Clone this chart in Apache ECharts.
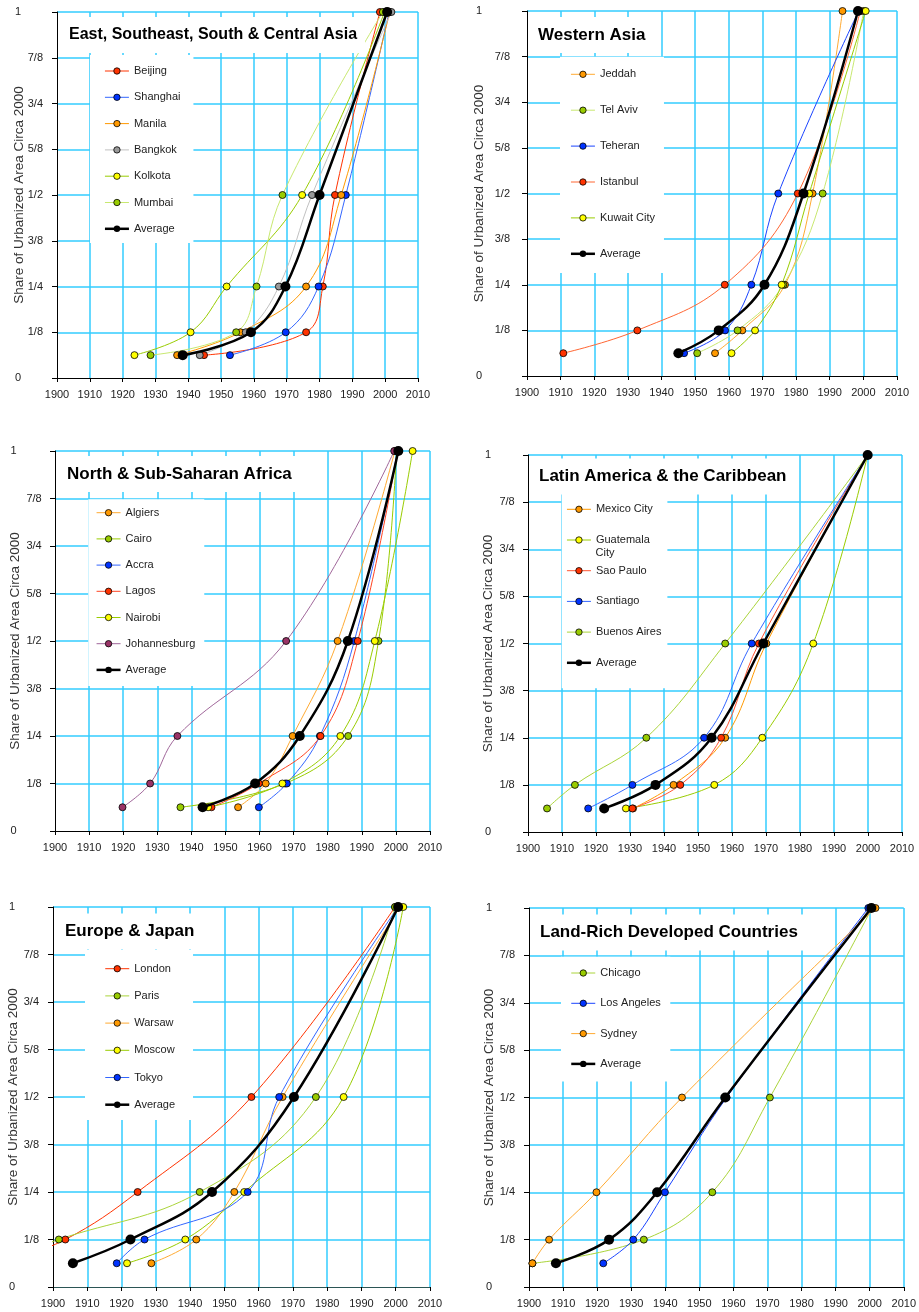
<!DOCTYPE html>
<html><head><meta charset="utf-8">
<script src="https://cdn.jsdelivr.net/npm/echarts@6/dist/echarts.min.js"></script>
<style>html,body{margin:0;padding:0;background:#fff;}#c{width:919px;height:1312px;}</style>
</head><body><div id="c"></div>
<script>
// ---------- shared values ----------
const levels = [1/16, 1/8, 1/4, 1/2, 1];
const yTickLabels = ['0','1/8','1/4','3/8','1/2','5/8','3/4','7/8','1'];
const xMin = 1900, xMax = 2010, xStep = 10;
const yAxisTitle = 'Share of Urbanized Area Circa 2000';

// ---------- Panel 1: East, Southeast, South & Central Asia ----------
const asiaTitle = 'East, Southeast, South & Central Asia';
const asiaCities = ['Beijing','Shanghai','Manila','Bangkok','Kolkota','Mumbai','Average'];
const asiaYears = [
  [1944.8,1975.9,1981.0,1984.7,1998.4],
  [1952.7,1969.7,1979.7,1988.0,2001.2],
  [1936.6,1955.9,1975.9,1986.6,2001.4],
  [1943.5,1957.5,1967.6,1977.7,2001.9],
  [1923.6,1940.7,1951.7,1974.7,1999.8],
  [1928.5,1954.6,1960.8,1968.7,1999.3],
  [1938.3,1959.1,1969.6,1980.0,2000.6]
];
// ---------- Panel 2: Western Asia ----------
const westTitle = 'Western Asia';
const westCities = ['Jeddah','Tel Aviv','Teheran','Istanbul','Kuwait City','Average'];
const westYears = [
  [1955.9,1964.0,1976.7,1984.9,1993.8],
  [1950.6,1962.6,1976.2,1987.9,2000.1],
  [1946.7,1958.9,1966.7,1974.7,1998.6],
  [1910.8,1932.8,1958.8,1980.5,1999.1],
  [1960.8,1967.8,1975.7,1983.9,2000.7],
  [1945.0,1957.0,1970.6,1982.2,1998.4]
];
// ---------- Panel 3: North & Sub-Saharan Africa ----------
const africaTitle = 'North & Sub-Saharan Africa';
const africaCities = ['Algiers','Cairo','Accra','Lagos','Nairobi','Johannesburg','Average'];
const africaYears = [
  [1953.7,1961.8,1969.7,1982.9,1999.7],
  [1936.8,1967.5,1986.0,1994.9,2000.2],
  [1959.8,1968.0,1977.7,1987.8,2000.5],
  [1945.9,1959.8,1977.9,1988.8,2000.5],
  [1944.9,1966.7,1983.7,1993.8,2004.9],
  [1919.8,1927.9,1935.9,1967.8,1999.5],
  [1943.3,1958.7,1971.8,1985.9,2000.7]
];
// ---------- Panel 4: Latin America & the Caribbean ----------
const latinTitle = 'Latin America & the Caribbean';
const latinCities = ['Mexico City','Guatemala City','Sao Paulo','Santiago','Buenos Aires','Average'];
const latinYears = [
  [1930.9,1942.8,1958.0,1970.1,1999.9],
  [1928.8,1954.8,1968.9,1983.9,1999.9],
  [1930.7,1944.8,1956.8,1967.9,1999.9],
  [1917.7,1930.7,1951.8,1965.8,1999.9],
  [1905.6,1913.8,1934.8,1958.0,1999.9],
  [1922.4,1937.5,1954.0,1969.2,1999.9]
];
// ---------- Panel 5: Europe & Japan ----------
const europeTitle = 'Europe & Japan';
const europeCities = ['London','Paris','Warsaw','Moscow','Tokyo','Average'];
const europeYears = [
  [1885.0,1903.6,1924.7,1957.9,1999.8],
  [1882.0,1901.7,1942.8,1976.7,1999.8],
  [1928.7,1941.8,1952.9,1967.0,2001.2],
  [1921.6,1938.6,1955.8,1984.8,2002.2],
  [1918.6,1926.7,1956.8,1966.0,2000.7],
  [1905.8,1922.6,1946.4,1970.3,2000.7]
];
// ---------- Panel 6: Land-Rich Developed Countries ----------
const landTitle = 'Land-Rich Developed Countries';
const landCities = ['Chicago','Los Angeles','Sydney','Average'];
const landYears = [
  [1901.0,1933.7,1953.8,1970.7,2000.7],
  [1921.8,1930.6,1939.9,1958.0,1999.6],
  [1901.0,1905.9,1919.8,1944.9,2001.7],
  [1907.9,1923.5,1937.6,1957.6,2000.5]
];

// ---------- styles ----------
const FONT = "'Liberation Sans', Arial, sans-serif";
const CYAN = '#33ccff';
const lineColors = {
  'Beijing':'#ff3300','Shanghai':'#3366ff','Manila':'#ff9900','Bangkok':'#c0c0c0','Kolkota':'#99cc00','Mumbai':'#c8e870',
  'Jeddah':'#ffaa33','Tel Aviv':'#c8e870','Teheran':'#1a44ff','Istanbul':'#ff6633','Kuwait City':'#99cc00',
  'Algiers':'#ffaa33','Cairo':'#99cc00','Accra':'#3366ff','Lagos':'#ff4422','Nairobi':'#99cc00','Johannesburg':'#a0679a',
  'Mexico City':'#ff9900','Guatemala City':'#99cc00','Sao Paulo':'#ff5533','Santiago':'#3366ff','Buenos Aires':'#aad43a',
  'London':'#ff3300','Paris':'#aad43a','Warsaw':'#ffaa33','Moscow':'#99cc00','Tokyo':'#3366ff',
  'Chicago':'#aad43a','Los Angeles':'#1a44ff','Sydney':'#ffaa33','Average':'#000000'
};
const markerColors = {
  'Beijing':'#ff3300','Shanghai':'#0033ff','Manila':'#ff9900','Bangkok':'#999999','Kolkota':'#ffff00','Mumbai':'#99cc00',
  'Jeddah':'#ff9900','Tel Aviv':'#99cc00','Teheran':'#0033ff','Istanbul':'#ff3300','Kuwait City':'#ffff00',
  'Algiers':'#ff9900','Cairo':'#99cc00','Accra':'#0033ff','Lagos':'#ff3300','Nairobi':'#ffff00','Johannesburg':'#993366',
  'Mexico City':'#ff9900','Guatemala City':'#ffff00','Sao Paulo':'#ff3300','Santiago':'#0033ff','Buenos Aires':'#99cc00',
  'London':'#ff3300','Paris':'#99cc00','Warsaw':'#ff9900','Moscow':'#ffff00','Tokyo':'#0033ff',
  'Chicago':'#99cc00','Los Angeles':'#0033ff','Sydney':'#ff9900','Average':'#000000'
};

const panels = [
  {title: asiaTitle, titleSize:16, cities: asiaCities, years: asiaYears,
   grid:{left:57, top:12, width:361, height:366}, yGap:31, yMargin:14, intPad:22, xColor:'#000',
   titlePos:{left:63, top:17}, legend:{left:90, top:55, padding:[9.5,13,7.8,13.7], gap:13.3}},
  {title: westTitle, titleSize:17, cities: westCities, years: westYears,
   grid:{left:527, top:11, width:370, height:365}, yGap:41, yMargin:17, intPad:28, xColor:'#000',
   titlePos:{left:532, top:17}, legend:{left:560, top:56.7, padding:[11.1,9,12.8,9.7], gap:22.9}},
  {title: africaTitle, titleSize:17, cities: africaCities, years: africaYears,
   grid:{left:55, top:451, width:375, height:380}, yGap:33, yMargin:13.3, intPad:25, xColor:'#000',
   titlePos:{left:61, top:456}, legend:{left:88.3, top:499.3, padding:[6.9,9,9.5,7], gap:13.2}},
  {title: latinTitle, titleSize:17, cities: latinCities, years: latinYears,
   grid:{left:528, top:455, width:374, height:377}, yGap:32.5, yMargin:13.3, intPad:23.5, xColor:'#000',
   titlePos:{left:533, top:458.5}, legend:{left:561.7, top:493.3, padding:[9.5,6,19,4], gap:17.7}},
  {title: europeTitle, titleSize:17, cities: europeCities, years: europeYears,
   grid:{left:53, top:907, width:377, height:380}, yGap:33, yMargin:14, intPad:24, xColor:'#2b5555',
   titlePos:{left:59, top:913.5}, legend:{left:85, top:950, padding:[12.2,18,8.8,19], gap:14.2}},
  {title: landTitle, titleSize:17, cities: landCities, years: landYears,
   grid:{left:529, top:908, width:376, height:379}, yGap:32.5, yMargin:14, intPad:23, xColor:'#000',
   titlePos:{left:534, top:914.5}, legend:{left:561, top:956.7, padding:[9.8,9.5,11.2,9], gap:17.3}}
];

const option = {
  backgroundColor:'#fff', animation:false,
  textStyle:{fontFamily:FONT},
  grid:[], xAxis:[], yAxis:[], series:[], title:[], legend:[],
  graphic:[{type:'text', left:595.5, top:547, z:100,
            style:{text:'City', fontSize:11, fill:'#222', font:"11px 'Liberation Sans', Arial, sans-serif"}}]
};

panels.forEach((p, pi) => {
  option.grid.push(Object.assign({containLabel:false, show:false}, p.grid));
  option.xAxis.push({
    gridIndex:pi, type:'value', min:xMin, max:xMax, interval:xStep,
    axisLine:{show:true, onZero:false, lineStyle:{color:p.xColor, width:1}},
    axisTick:{show:true, length:4, lineStyle:{color:'#000'}},
    axisLabel:{margin:11, fontSize:11, color:'#222', fontFamily:FONT, showMinLabel:true, showMaxLabel:true,
               formatter:v => String(v)},
    splitLine:{show:true, showMinLine:false, showMaxLine:true, lineStyle:{color:CYAN, width:1.5}}
  });
  option.yAxis.push({
    gridIndex:pi, type:'value', min:0, max:1, interval:0.125,
    name:yAxisTitle, nameLocation:'middle', nameGap:p.yGap, nameMoveOverlap:false,
    nameTextStyle:{fontSize:13.5, color:'#333', fontFamily:FONT},
    axisLine:{show:true, onZero:false, lineStyle:{color:'#000', width:1}},
    axisTick:{show:true, length:5, lineStyle:{color:'#000'}},
    axisLabel:{margin:p.yMargin, fontSize:11, color:'#222', fontFamily:FONT,
      formatter:v => { const i = Math.round(v*8); const t = yTickLabels[i];
                       return (i === 0 || i === 8) ? '{w|' + t + '}' : t; },
      rich:{w:{padding:[0,p.intPad,0,0], fontSize:11, color:'#222', fontFamily:FONT}}},
    splitLine:{show:true, showMinLine:false, showMaxLine:true, lineStyle:{color:CYAN, width:1.5}}
  });
  option.title.push({
    text:p.title, left:p.titlePos.left, top:p.titlePos.top, backgroundColor:'#fff',
    padding:[8,8,8,6],
    textStyle:{fontSize:p.titleSize, fontWeight:'bold', color:'#000', lineHeight:20, fontFamily:FONT}
  });
  option.legend.push({
    orient:'vertical', left:p.legend.left, top:p.legend.top, padding:p.legend.padding,
    itemGap:p.legend.gap, itemWidth:24, itemHeight:8, backgroundColor:'#fff',
    data:p.cities.slice(), selectedMode:false,
    formatter: n => n === 'Guatemala City' ? 'Guatemala' : n,
    textStyle:{fontSize:11, lineHeight:13, color:'#222', fontFamily:FONT},
    lineStyle:{width:'inherit'}, itemStyle:{borderWidth:'inherit'}
  });
  p.cities.forEach((name, ci) => {
    const isAvg = name === 'Average';
    option.series.push({
      name, type:'line', xAxisIndex:pi, yAxisIndex:pi,
      data:p.years[ci].map((yr, k) => [yr, levels[k]]),
      smooth:0.4, clip:true, symbol:'circle', symbolSize:isAvg ? 10 : 7,
      showAllSymbol:true,
      lineStyle:{color:lineColors[name], width:isAvg ? 2.5 : 1},
      itemStyle:{color:markerColors[name], borderColor:'#000', borderWidth:isAvg ? 0 : 0.8},
      emphasis:{disabled:true}, z:isAvg ? 3 : 2
    });
  });
});

const chart = echarts.init(document.getElementById('c'), null, {renderer:'canvas'});
chart.setOption(option);
</script></body></html>
